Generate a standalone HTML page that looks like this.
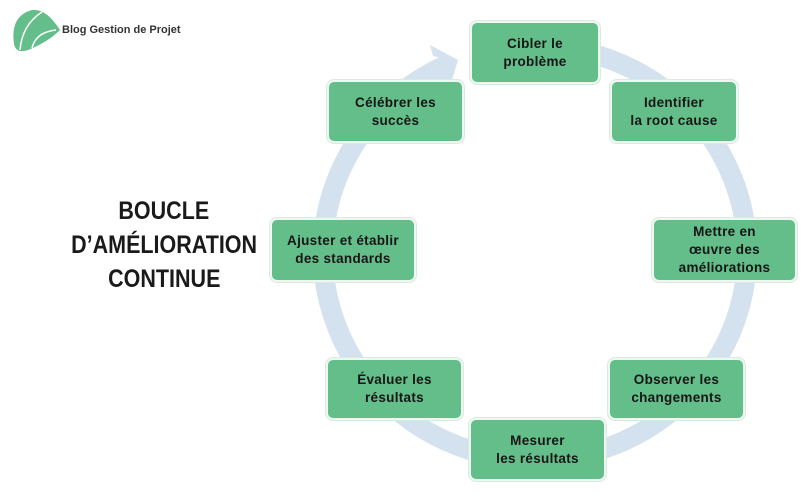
<!DOCTYPE html>
<html><head><meta charset="utf-8"><style>
html,body{margin:0;padding:0;background:#fff;}
body{width:811px;height:500px;position:relative;overflow:hidden;font-family:"Liberation Sans","DejaVu Sans",sans-serif;}
.b{position:absolute;background:#63be8a;border:2px solid #eef7f1;border-radius:7px;box-sizing:border-box;display:flex;align-items:center;justify-content:center;text-align:center;font-weight:bold;font-size:13.5px;line-height:18px;color:#151515;letter-spacing:0.3px;box-shadow:0 0 0 1px #d7ecdf;}
.t{position:absolute;left:24px;width:280px;text-align:center;font-weight:bold;font-size:25px;color:#1a1a1a;line-height:34px;top:194px;}
.t span{display:inline-block;transform:scaleX(0.86);}
.logo{position:absolute;left:62px;top:24px;font-weight:bold;font-size:11px;color:#333;}
</style></head><body>
<svg width="811" height="500" style="position:absolute;left:0;top:0">
  <path d="M 14 44 Q 10 16 32 10 Q 46 8 60 30 Q 48 42 28 50 Q 16 54 14 44 Z" fill="#63be8a"/>
  <path d="M 20 50 Q 22 25 42 12" stroke="#fff" stroke-width="1.5" fill="none"/>
  <path d="M 32 48 Q 36 32 56 30" stroke="#fff" stroke-width="1.5" fill="none"/>
  <ellipse cx="535" cy="253" rx="212" ry="207" stroke="#d3e2ee" stroke-width="20" fill="none"/>
  <rect x="440" y="30" width="30" height="60" fill="#fff"/>
  <path d="M 433 56 L 430 45 L 458 60 L 452 80 L 438 80 L 438 57 Z" fill="#d3e2ee"/>
</svg>
<div class="logo">Blog Gestion de Projet</div>
<div class="t"><span>BOUCLE</span><br><span>D’AMÉLIORATION</span><br><span>CONTINUE</span></div>
<div class="b" style="left:470px;top:21px;width:130px;height:63px">Cibler le<br>problème</div>
<div class="b" style="left:610px;top:80px;width:128px;height:63px">Identifier<br>la root cause</div>
<div class="b" style="left:652px;top:218px;width:145px;height:64px">Mettre en<br>œuvre des<br>améliorations</div>
<div class="b" style="left:608px;top:358px;width:137px;height:62px">Observer les<br>changements</div>
<div class="b" style="left:469px;top:418px;width:137px;height:63px">Mesurer<br>les résultats</div>
<div class="b" style="left:326px;top:358px;width:137px;height:62px">Évaluer les<br>résultats</div>
<div class="b" style="left:270px;top:218px;width:146px;height:64px">Ajuster et établir<br>des standards</div>
<div class="b" style="left:327px;top:80px;width:137px;height:63px">Célébrer les<br>succès</div>
</body></html>
